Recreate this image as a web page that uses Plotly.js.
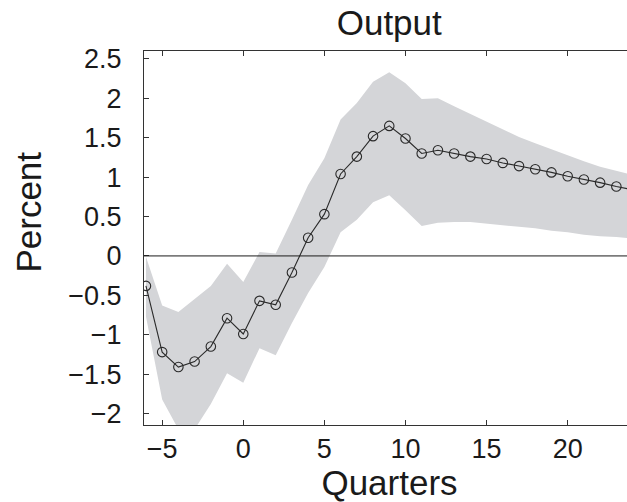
<!DOCTYPE html>
<html>
<head>
<meta charset="utf-8">
<script src="https://cdn.plot.ly/plotly-3.0.1.min.js"></script>
<style>
html,body{margin:0;padding:0;overflow:hidden;background:#fff;width:627px;height:502px;}
#chart{width:635px;height:502px;}
</style>
</head>
<body>
<div id="chart"></div>
<script>
const quarters = [-6,-5,-4,-3,-2,-1,0,1,2,3,4,5,6,7,8,9,10,11,12,13,14,15,16,17,18,19,20,21,22,23,24];
const response = [-0.38,-1.22,-1.41,-1.34,-1.15,-0.79,-0.99,-0.57,-0.62,-0.21,0.23,0.53,1.04,1.26,1.52,1.65,1.49,1.30,1.34,1.30,1.26,1.23,1.18,1.14,1.10,1.06,1.01,0.97,0.93,0.88,0.84];
const upperBand = [-0.01,-0.63,-0.71,-0.55,-0.38,-0.10,-0.33,0.05,0.03,0.46,0.90,1.24,1.73,1.94,2.21,2.33,2.19,1.99,2.00,1.90,1.80,1.70,1.61,1.51,1.43,1.35,1.27,1.20,1.13,1.08,1.03];
const lowerBand = [-0.77,-1.82,-2.20,-2.20,-1.88,-1.49,-1.61,-1.17,-1.26,-0.85,-0.47,-0.14,0.30,0.46,0.68,0.77,0.58,0.38,0.42,0.43,0.43,0.41,0.39,0.37,0.35,0.32,0.30,0.27,0.25,0.24,0.22];
const yTicks = [-2,-1.5,-1,-0.5,0,0.5,1,1.5,2,2.5];
const xTicks = [-5,0,5,10,15,20];

const FONT = 'Liberation Sans, Arial, Helvetica, sans-serif';
const AX = '#333333';

const traces = [
  {x: quarters, y: lowerBand, mode: 'lines', line: {width: 0, color: 'rgba(0,0,0,0)'}, hoverinfo: 'skip', showlegend: false},
  {x: quarters, y: upperBand, mode: 'lines', fill: 'tonexty', fillcolor: '#d4d5d8', line: {width: 0, color: 'rgba(0,0,0,0)'}, hoverinfo: 'skip', showlegend: false},
  {x: quarters, y: response, mode: 'lines+markers', line: {color: '#2a2a2a', width: 1.1},
   marker: {symbol: 'circle-open', size: 9.5, color: '#2a2a2a', line: {width: 1.1, color: '#2a2a2a'}}, showlegend: false}
];

const layout = {
  width: 635, height: 502,
  margin: {l: 144, r: 0, t: 51, b: 77, pad: 0},
  paper_bgcolor: '#ffffff', plot_bgcolor: '#ffffff',
  font: {family: FONT, color: '#1a1a1a', size: 27},
  title: {text: 'Output', font: {family: FONT, size: 35, color: '#1a1a1a'}, x: 0.613, xanchor: 'center', y: 0.955, yanchor: 'middle'},
  xaxis: {
    range: [-6.12, 24.15], tickvals: xTicks, ticktext: xTicks.map(v => v < 0 ? '\u2212' + Math.abs(v) : String(v)),
    ticks: 'inside', ticklen: 5, tickwidth: 1, tickcolor: AX,
    showline: true, linecolor: AX, linewidth: 1, mirror: 'ticks',
    showgrid: false, zeroline: false, ticklabelstandoff: 0,
    tickfont: {family: FONT, size: 27, color: '#1a1a1a'},
    title: {text: 'Quarters', font: {family: FONT, size: 35, color: '#1a1a1a'}, standoff: 0}
  },
  yaxis: {
    range: [-2.145, 2.60], tickvals: yTicks, ticktext: yTicks.map(v => v < 0 ? '\u2212' + Math.abs(v) : String(v)),
    ticks: 'inside', ticklen: 5, tickwidth: 1, tickcolor: AX,
    showline: true, linecolor: AX, linewidth: 1, mirror: 'ticks',
    showgrid: false, zeroline: false, ticklabelstandoff: 16,
    tickfont: {family: FONT, size: 27, color: '#1a1a1a'}
  },
  annotations: [{
    text: 'Percent', textangle: -90, showarrow: false,
    xref: 'paper', x: 0, xanchor: 'center', xshift: -115,
    yref: 'paper', y: 0.568, yanchor: 'middle',
    font: {family: FONT, size: 35, color: '#1a1a1a'}
  }],
  shapes: [{type: 'line', xref: 'paper', x0: 0, x1: 1, yref: 'y', y0: 0, y1: 0, line: {color: '#1a1a1a', width: 1}, layer: 'above'}]
};

Plotly.newPlot('chart', traces, layout, {displayModeBar: false, staticPlot: true});
</script>
</body>
</html>
